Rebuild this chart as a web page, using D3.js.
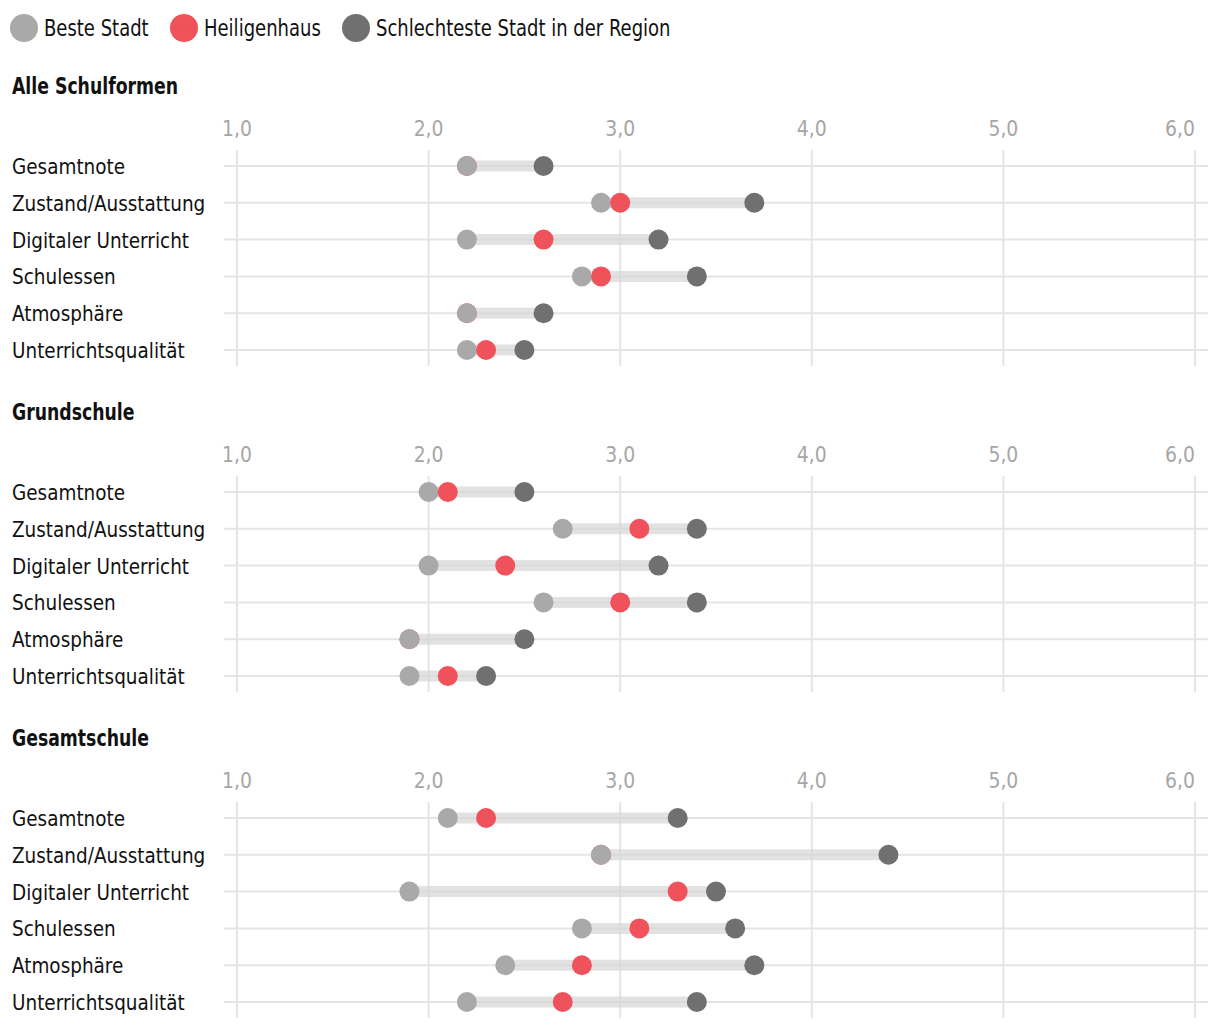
<!DOCTYPE html>
<html><head><meta charset="utf-8">
<script src="https://cdn.jsdelivr.net/npm/d3@7"></script>
<style>
body{margin:0;background:#fff;}
svg text{font-family:"DejaVu Sans Condensed","DejaVu Sans",sans-serif;}
</style></head>
<body><svg id="c" width="1220" height="1028"></svg>
<script>
const categories = ["Gesamtnote","Zustand/Ausstattung","Digitaler Unterricht","Schulessen","Atmosphäre","Unterrichtsqualität"];
const panels = ["Alle Schulformen","Grundschule","Gesamtschule"];
const seriesNames = ["Beste Stadt","Heiligenhaus","Schlechteste Stadt in der Region"];
const bestAlle = [2.2,2.9,2.2,2.8,2.2,2.2];
const hhAlle = [2.2,3.0,2.6,2.9,2.2,2.3];
const worstAlle = [2.6,3.7,3.2,3.4,2.6,2.5];
const bestGrund = [2.0,2.7,2.0,2.6,1.9,1.9];
const hhGrund = [2.1,3.1,2.4,3.0,1.9,2.1];
const worstGrund = [2.5,3.4,3.2,3.4,2.5,2.3];
const bestGesamt = [2.1,2.9,1.9,2.8,2.4,2.2];
const hhGesamt = [2.3,2.9,3.3,3.1,2.8,2.7];
const worstGesamt = [3.3,4.4,3.5,3.6,3.7,3.4];
const tickValues = [1,2,3,4,5,6];
const tickLabels = ["1,0","2,0","3,0","4,0","5,0","6,0"];

const colors = {best:"#a9a9a9", hh:"#ef525b", worst:"#707070"};
const panelData = [
  {title:panels[0], best:bestAlle, hh:hhAlle, worst:worstAlle},
  {title:panels[1], best:bestGrund, hh:hhGrund, worst:worstGrund},
  {title:panels[2], best:bestGesamt, hh:hhGesamt, worst:worstGesamt}
];

function condense(sel, ratio){
  sel.each(function(){
    const w = this.getComputedTextLength();
    d3.select(this).attr("textLength", w*ratio).attr("lengthAdjust","spacingAndGlyphs");
  });
}

const svg = d3.select("#c");
const x = d3.scaleLinear().domain([1,6]).range([237,1195]);
const r = 10;

// Legend
const leg = svg.append("g");
const legX = [24,184,356];
const legKeys = ["best","hh","worst"];
seriesNames.forEach((n,i)=>{
  leg.append("circle").attr("cx",legX[i]).attr("cy",28).attr("r",14).attr("fill",colors[legKeys[i]]);
  const t = leg.append("text").attr("x",legX[i]+20).attr("y",28).attr("dy","0.36em")
    .attr("font-size",23).attr("fill","#111").text(n);
  condense(t, 0.87);
});

const panelTop = [86,412,738];
panelData.forEach((p,pi)=>{
  const g = svg.append("g").attr("transform",`translate(0,${panelTop[pi]})`);
  const y = d3.scalePoint().domain(categories).range([80,264]);
  const tt = g.append("text").attr("x",12).attr("y",0).attr("dy","0.36em")
    .attr("font-size",23).attr("font-weight","bold").attr("fill","#111").text(p.title);
  condense(tt, 0.835);
  // tick labels
  const tl = g.selectAll(".tl").data(tickValues).enter().append("text")
    .attr("x",d=>x(d))
    .attr("text-anchor",(d,i)=> i===tickValues.length-1 ? "end":"middle")
    .attr("y",42).attr("dy","0.36em").attr("font-size",22).attr("fill","#a6a6a6")
    .text((d,i)=>tickLabels[i]);
  condense(tl, 0.95);
  // vertical grid
  g.selectAll(".vg").data(tickValues).enter().append("line")
    .attr("x1",d=>x(d)).attr("x2",d=>x(d)).attr("y1",64).attr("y2",280)
    .attr("stroke","#e5e5e5").attr("stroke-width",2);
  // horizontal grid
  g.selectAll(".hg").data(categories).enter().append("line")
    .attr("x1",224).attr("x2",1208).attr("y1",d=>y(d)).attr("y2",d=>y(d))
    .attr("stroke","#e5e5e5").attr("stroke-width",2);
  // row labels
  const rl = g.selectAll(".rl").data(categories).enter().append("text")
    .attr("x",12).attr("y",d=>y(d)).attr("dy","0.36em").attr("font-size",22).attr("fill","#111")
    .text(d=>d);
  condense(rl, 0.93);
  // bands + dots
  categories.forEach((c,i)=>{
    g.append("line").attr("x1",x(p.best[i])).attr("x2",x(p.worst[i]))
      .attr("y1",y(c)).attr("y2",y(c)).attr("stroke","#d6d6d6").attr("stroke-opacity",0.7).attr("stroke-width",11);
    const order = p.hh[i]===p.best[i] ? ["hh","best","worst"] : ["best","hh","worst"];
    order.forEach(k=>{
      g.append("circle").attr("cx",x(p[k][i])).attr("cy",y(c)).attr("r",r).attr("fill",colors[k]);
    });
  });
});
</script></body></html>
